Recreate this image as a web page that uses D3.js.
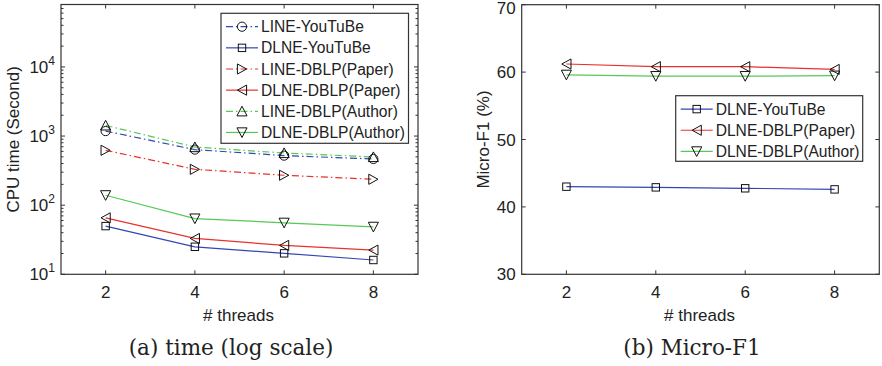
<!DOCTYPE html>
<html>
<head>
<meta charset="utf-8">
<script src="https://cdn.jsdelivr.net/npm/d3@7"></script>
<style>
  body { margin: 0; background: #fff; }
  text { font-family: "Liberation Sans", Arial, sans-serif; fill: #222; }
  .cap { font-family: "DejaVu Serif", "Liberation Serif", serif; }
</style>
</head>
<body>
<svg id="chart" width="882" height="366"></svg>
<script>
const threads = [2, 4, 6, 8]

// (a) CPU time in seconds, log scale
const timeNames = ['LINE-YouTuBe', 'DLNE-YouTuBe', 'LINE-DBLP(Paper)',
    'DLNE-DBLP(Paper)', 'LINE-DBLP(Author)', 'DLNE-DBLP(Author)']
const lineYoutube = [1180, 637, 521, 466]
const dlneYoutube = [49.8, 25, 20.1, 16.1]
const linePaper = [622, 330, 271, 237]
const dlnePaper = [65.6, 33, 26.2, 22.4]
const lineAuthor = [1427, 693, 569, 498]
const dlneAuthor = [139, 64, 55.6, 48.6]
const timeTicks = [10, 100, 1000, 10000]

// (b) Micro-F1 in %
const f1Names = ['DLNE-YouTuBe', 'DLNE-DBLP(Paper)', 'DLNE-DBLP(Author)']
const f1Youtube = [43.0, 42.9, 42.76, 42.6]
const f1Paper = [61.2, 60.8, 60.8, 60.4]
const f1Author = [59.6, 59.4, 59.4, 59.47]
const f1Ticks = [30, 40, 50, 60, 70]

const xTicks = [2, 4, 6, 8]

const blue = '#3446b2'
const red = '#e8322e'
const green = '#55c955'

const svg = d3.select('#chart')

// marker drawing, black hollow symbols like matlab
function drawMarker(g, kind, x, y) {
    const s = 4.6
    let path
    if (kind === 'circle') {
        g.append('circle').attr('cx', x).attr('cy', y).attr('r', 4.6)
            .attr('fill', 'none').attr('stroke', '#111').attr('stroke-width', 1)
        return
    }
    if (kind === 'square') {
        g.append('rect').attr('x', x - 3.7).attr('y', y - 3.7).attr('width', 7.4).attr('height', 7.4)
            .attr('fill', 'none').attr('stroke', '#111').attr('stroke-width', 1)
        return
    }
    if (kind === 'right') path = `M${x - s},${y - s * 1.1}L${x + s},${y}L${x - s},${y + s * 1.1}Z`
    if (kind === 'left') path = `M${x + s},${y - s * 1.1}L${x - s},${y}L${x + s},${y + s * 1.1}Z`
    if (kind === 'up') path = `M${x},${y - s * 1.1}L${x + s * 1.1},${y + s}L${x - s * 1.1},${y + s}Z`
    if (kind === 'down') path = `M${x},${y + s * 1.1}L${x + s * 1.1},${y - s}L${x - s * 1.1},${y - s}Z`
    g.append('path').attr('d', path).attr('fill', 'none').attr('stroke', '#111').attr('stroke-width', 1)
}

function drawPanel(opt) {
    const { left, right, top, bottom } = opt
    const g = svg.append('g')
    const x = d3.scaleLinear().domain([1, 9]).range([left, right])
    const y = opt.y

    // frame
    g.append('rect').attr('x', left).attr('y', top).attr('width', right - left).attr('height', bottom - top)
        .attr('fill', 'none').attr('stroke', '#333').attr('stroke-width', 1.2)

    // x ticks on bottom and top
    xTicks.forEach(t => {
        g.append('line').attr('x1', x(t)).attr('x2', x(t)).attr('y1', bottom).attr('y2', bottom - 4)
            .attr('stroke', '#333')
        g.append('line').attr('x1', x(t)).attr('x2', x(t)).attr('y1', top).attr('y2', top + 4)
            .attr('stroke', '#333')
        g.append('text').attr('x', x(t)).attr('y', bottom + 24).attr('text-anchor', 'middle')
            .attr('font-size', '17px').text(t)
    })

    // y ticks on left and right
    opt.yTicks.forEach(t => {
        g.append('line').attr('x1', left).attr('x2', left + 4).attr('y1', y(t)).attr('y2', y(t)).attr('stroke', '#333')
        g.append('line').attr('x1', right).attr('x2', right - 4).attr('y1', y(t)).attr('y2', y(t)).attr('stroke', '#333')
        const lab = g.append('text').attr('x', left - 6).attr('y', Math.max(y(t) + 6, 13.5)).attr('text-anchor', 'end')
            .attr('font-size', '17px')
        if (opt.log) {
            lab.append('tspan').text('10')
            lab.append('tspan').attr('dy', -8).attr('font-size', '12px').text(Math.round(Math.log10(t)))
        } else {
            lab.text(t)
        }
    })
    if (opt.log) {
        const [d0, d1] = y.domain()
        for (let p = 10; p < d1; p *= 10) {
            for (let k = 2; k <= 9; k++) {
                const v = p * k
                if (v > d1) break
                g.append('line').attr('x1', left).attr('x2', left + 2.5).attr('y1', y(v)).attr('y2', y(v)).attr('stroke', '#333')
                g.append('line').attr('x1', right).attr('x2', right - 2.5).attr('y1', y(v)).attr('y2', y(v)).attr('stroke', '#333')
            }
        }
    }

    // axis titles
    g.append('text').attr('x', (left + right) / 2 - 1).attr('y', bottom + 47).attr('text-anchor', 'middle')
        .attr('font-size', '17px').text('# threads')
    g.append('text').attr('transform', `translate(${opt.yLabelX},${(top + bottom) / 2}) rotate(-90)`)
        .attr('text-anchor', 'middle').attr('font-size', '17px').text(opt.yLabel)

    // series
    const line = d3.line().x((d, i) => x(threads[i])).y(d => y(d))
    opt.series.forEach(s => {
        g.append('path').datum(s.values).attr('d', line).attr('fill', 'none')
            .attr('stroke', s.color).attr('stroke-width', 1.2)
            .attr('stroke-dasharray', s.dash ? '7,3,1.5,3' : null)
    })
    opt.series.forEach(s => {
        s.values.forEach((v, i) => drawMarker(g, s.marker, x(threads[i]), y(v)))
    })

    // legend
    const lg = opt.legend
    g.append('rect').attr('x', lg.x).attr('y', lg.y).attr('width', lg.w).attr('height', lg.h)
        .attr('fill', '#fff').attr('stroke', '#333').attr('stroke-width', 1.2)
    opt.series.forEach((s, i) => {
        const cy = lg.y + 13.4 + i * 21.15
        g.append('line').attr('x1', lg.x + 5).attr('x2', lg.x + 37).attr('y1', cy).attr('y2', cy)
            .attr('stroke', s.color).attr('stroke-width', 1.2)
            .attr('stroke-dasharray', s.dash ? '7,3,1.5,3' : null)
        drawMarker(g, s.marker, lg.x + 21, cy)
        g.append('text').attr('x', lg.x + 40).attr('y', cy + 5.5).attr('font-size', '15.6px').text(s.name)
    })

    // caption
    g.append('text').attr('class', 'cap').attr('x', opt.capX).attr('y', 355).attr('text-anchor', 'middle')
        .attr('font-size', '21.5px').text(opt.caption)
}

const yTime = d3.scaleLog().domain([10, 80000]).range([274.3, 4.5])
drawPanel({
    left: 61, right: 418, top: 4.5, bottom: 274.3,
    y: yTime, yTicks: timeTicks, log: true,
    yLabel: 'CPU time (Second)', yLabelX: 19,
    caption: '(a) time (log scale)', capX: 231,
    legend: { x: 221, y: 13.3, w: 187.5, h: 130 },
    series: [
        { name: timeNames[0], values: lineYoutube, color: blue, dash: true, marker: 'circle' },
        { name: timeNames[1], values: dlneYoutube, color: blue, dash: false, marker: 'square' },
        { name: timeNames[2], values: linePaper, color: red, dash: true, marker: 'right' },
        { name: timeNames[3], values: dlnePaper, color: red, dash: false, marker: 'left' },
        { name: timeNames[4], values: lineAuthor, color: green, dash: true, marker: 'up' },
        { name: timeNames[5], values: dlneAuthor, color: green, dash: false, marker: 'down' }
    ]
})

const yF1 = d3.scaleLinear().domain([30, 70]).range([274.3, 4.7])
drawPanel({
    left: 521.7, right: 879.3, top: 4.7, bottom: 274.3,
    y: yF1, yTicks: f1Ticks, log: false,
    yLabel: 'Micro-F1 (%)', yLabelX: 489,
    caption: '(b) Micro-F1', capX: 692,
    legend: { x: 675.7, y: 95.7, w: 187, h: 65.6 },
    series: [
        { name: f1Names[0], values: f1Youtube, color: blue, dash: false, marker: 'square' },
        { name: f1Names[1], values: f1Paper, color: red, dash: false, marker: 'left' },
        { name: f1Names[2], values: f1Author, color: green, dash: false, marker: 'down' }
    ]
})
</script>
</body>
</html>
